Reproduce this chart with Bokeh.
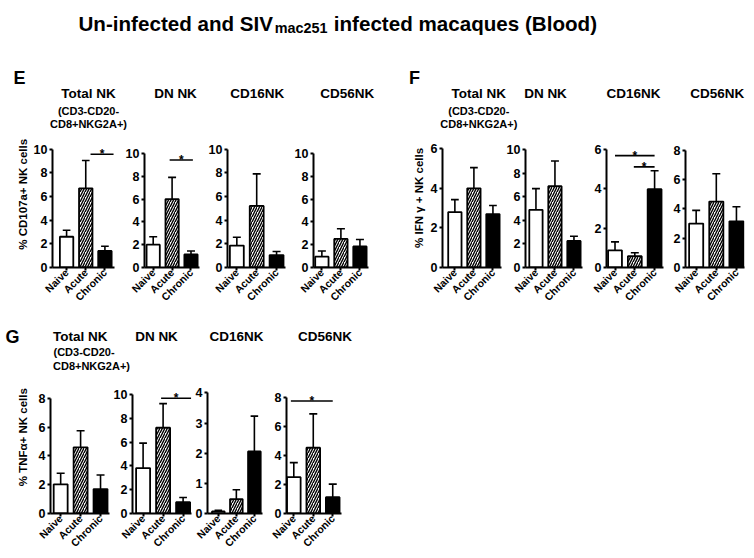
import math
from bokeh.plotting import figure
from bokeh.models import ColumnDataSource, Label, FixedTicker, Range1d
from bokeh.layouts import row, column
from bokeh.embed import file_html
from bokeh.resources import INLINE
from bokeh.core.properties import value, field

FONT = "Liberation Sans"

# ---------------- data ----------------
groups = ["Naive", "Acute", "Chronic"]
panel_names = ["Total NK", "DN NK", "CD16NK", "CD56NK"]
total_sub = ["(CD3-CD20-", "CD8+NKG2A+)"]
title_main = "Un-infected and SIV"
title_sub = "mac251"
title_tail = "infected macaques (Blood)"
section_letters = ["E", "F", "G"]

e_label = "% CD107a+ NK cells"
e_mean = [[2.6, 6.7, 1.4], [2.0, 6.0, 1.15], [1.85, 5.2, 1.05], [0.95, 2.5, 1.85]]
e_upper = [[3.15, 9.05, 1.8], [2.7, 7.9, 1.45], [2.55, 7.9, 1.35], [1.45, 3.4, 2.45]]
e_ymax = [10, 10, 10, 10]
e_ystep = [2, 2, 2, 2]
e_sig = [[(1.25, 2.45, 9.58)], [(0.87, 2.1, 9.42)], [], []]

f_label = "% IFN γ + NK cells"
f_mean = [[2.8, 4.0, 2.7], [4.9, 6.9, 2.25], [0.87, 0.57, 3.97], [3.0, 4.5, 3.15]]
f_upper = [[3.43, 5.05, 3.13], [6.7, 9.05, 2.65], [1.3, 0.75, 4.9], [3.9, 6.4, 4.15]]
f_ymax = [6, 10, 6, 8]
f_ystep = [2, 2, 2, 2]
f_sig = [[], [], [(0.0, 2.0, 5.67), (0.95, 2.0, 5.1)], []]

g_label = "% TNFα+ NK cells"
g_mean = [[2.03, 4.6, 1.7], [3.82, 7.22, 0.95], [0.07, 0.48, 2.06], [2.5, 4.52, 1.12]]
g_upper = [[2.8, 5.75, 2.68], [5.92, 9.25, 1.35], [0.11, 0.79, 3.23], [3.5, 6.85, 2.02]]
g_ymax = [8, 10, 4, 8]
g_ystep = [2, 2, 1, 2]
g_sig = [[], [(0.9, 2.4, 9.7)], [], [(-0.15, 2.0, 7.73)]]

# ---------------- layout (page pixels) ----------------
PAGE_W = 754
# (left edge, axis x, px per group, x start, x end, zero px, top-tick px)
geo_row1 = [
    (30, 49, 20.0, -0.735, 2.5, 267.5, 149.3),
    (120, 144, 19.0, -0.46, 2.45, 267.7, 152.7),
    (202, 226.7, 19.9, -0.47, 2.45, 267.7, 148.3),
    (289, 313.3, 19.0, -0.44, 2.45, 267.7, 152.7),
    (427, 440, 19.7, -0.65, 2.45, 270.7, 148.3),
    (502, 525, 19.15, -0.55, 2.45, 272.3, 150.0),
    (583, 606, 19.85, -0.43, 2.45, 272.3, 149.3),
    (664, 685, 20.2, -0.53, 2.4, 272.7, 150.0),
]
rights_row1 = [120, 202, 289, 380, 502, 583, 664, PAGE_W]
geo_row2 = [
    (29, 50, 20.0, -0.51, 2.45, 513.7, 397.8),
    (110, 130.5, 20.75, -0.53, 2.42, 516.0, 394.5),
    (192, 204, 19.15, -0.6, 2.45, 513.3, 392.7),
    (263, 286, 19.45, -0.375, 2.45, 515.7, 396.7),
]
rights_row2 = [110, 192, 263, 360]
ROW1 = (132, 313, 138)   # row top, row bottom, frame top
ROW2 = (378, 557, 381)
YLAB_STRIPS_ROW1 = [(0, 30, 22, 210.3), (380, 427, 418.3, 215.3)]  # x0, x1, cx, cy
YLAB_STRIP_ROW2 = (0, 29, 22, 453.5)


def style_axes(p, ymax, step):
    for ax in (p.xaxis[0], p.yaxis[0]):
        ax.axis_line_width = 2
        ax.major_tick_line_width = 2
        ax.major_tick_out = 3
        ax.major_tick_in = 0
        ax.minor_tick_line_color = None
        ax.major_label_text_font = FONT
        ax.major_label_text_font_style = "bold"
        ax.major_label_text_color = "black"
        ax.axis_line_color = "black"
        ax.major_tick_line_color = "black"
    p.xaxis.ticker = FixedTicker(ticks=list(range(len(groups))))
    p.xaxis.major_label_overrides = {i: g for i, g in enumerate(groups)}
    p.xaxis.major_label_orientation = math.pi / 4
    p.xaxis.major_label_text_font_size = "10.5px"
    p.xaxis.major_label_standoff = 0
    p.yaxis.ticker = FixedTicker(ticks=list(range(0, ymax + 1, step)))
    p.yaxis.bounds = (0, ymax)
    p.yaxis.major_label_text_font_size = "12.5px"
    p.yaxis.major_label_standoff = 2


def make_panel(mean, upper, ymax, step, sig, geo, right_edge, rowgeo):
    L, A, ppu, xs, xe, b, t = geo
    rtop, rbot, ftop = rowgeo
    W = int(round(right_edge - L))
    mbl = int(round(A - L))
    fw = int(round((xe - xs) * ppu))
    mbr = W - mbl - fw
    H = rbot - rtop
    mbt = ftop - rtop
    mbb = int(round(rbot - b))
    fh = H - mbt - mbb
    k = (b - t) / ymax
    yend = fh / k
    p = figure(width=W, height=H, x_range=Range1d(xs, xe), y_range=Range1d(0, yend),
               min_border_left=mbl, min_border_right=mbr, min_border_top=mbt,
               min_border_bottom=mbb, title=None, toolbar_location=None,
               output_backend="svg")
    p.outline_line_color = None
    p.grid.visible = False
    p.background_fill_color = "white"
    p.border_fill_color = "white"

    xs_idx = list(range(len(groups)))
    cap = 4.0 / ppu
    src = ColumnDataSource(dict(
        x=xs_idx, top=mean, up=upper,
        fill=["white", "white", "black"],
        hatch=[" ", "/", " "],
        c0=[i - cap for i in xs_idx], c1=[i + cap for i in xs_idx]))
    p.segment(x0="x", y0="top", x1="x", y1="up", source=src, line_color="black", line_width=1.6)
    p.segment(x0="c0", y0="up", x1="c1", y1="up", source=src, line_color="black", line_width=1.6)
    p.vbar(x="x", top="top", width=0.7, source=src, fill_color=field("fill"),
           line_color="black", line_width=1.8, hatch_pattern=field("hatch"),
           hatch_color="black", hatch_scale=5, hatch_weight=1.4)
    for (x0, x1, lvl) in sig:
        p.segment(x0=[x0], y0=[lvl], x1=[x1], y1=[lvl], line_color="black", line_width=1.6)
        p.text(x=[(x0 + x1) / 2], y=[lvl], text=["*"], text_align="center",
               text_baseline="alphabetic", text_font=value(FONT), text_font_size="12px",
               text_font_style="bold", text_color="black")
    style_axes(p, ymax, step)
    return p


def strip(width, height):
    s = figure(width=int(width), height=int(height), x_range=Range1d(0, width),
               y_range=Range1d(height, 0), min_border=0, title=None,
               toolbar_location=None, output_backend="svg",
               x_axis_type=None, y_axis_type=None)
    s.outline_line_color = None
    s.background_fill_color = "white"
    s.border_fill_color = "white"
    return s


def lab(s, x, y, text, size, align="center", baseline="middle", angle=0.0):
    s.add_layout(Label(x=x, y=y, text=text, text_align=align, text_baseline=baseline,
                       text_font=FONT, text_font_size=size, text_font_style="bold",
                       text_color="black", angle=angle))


def ylabel_strip(spec, rowgeo, text):
    x0, x1, cx, cy = spec
    rtop, rbot, _ = rowgeo
    s = strip(x1 - x0, rbot - rtop)
    lab(s, cx - x0, cy - rtop, text, "11.5px", angle=math.pi / 2)
    return s


# header strip (page y 0..132)
head = strip(PAGE_W, ROW1[0])
lab(head, 78, 23, title_main, "20.6px", align="left", baseline="alphabetic")
lab(head, 274.3, 27.3, title_sub, "14.4px", align="left", baseline="alphabetic")
lab(head, 333.3, 23, title_tail, "20.6px", align="left", baseline="alphabetic")
lab(head, 19, 77, section_letters[0], "18px")
lab(head, 414, 77, section_letters[1], "18px")
for cx, name in zip([88, 175, 256.7, 346.7, 478.3, 545, 633, 716.7], panel_names * 2):
    lab(head, cx, 93, name, "13.5px")
for cx in [88, 478.3]:
    lab(head, cx, 110, total_sub[0], "11px")
    lab(head, cx, 123, total_sub[1], "11px")

# row 1
row1 = []
row1_sets = [(e_mean, e_upper, e_ymax, e_ystep, e_sig, e_label),
             (f_mean, f_upper, f_ymax, f_ystep, f_sig, f_label)]
for si, (mn, up, ym, st, sg, yl) in enumerate(row1_sets):
    row1.append(ylabel_strip(YLAB_STRIPS_ROW1[si], ROW1, yl))
    for j in range(4):
        idx = si * 4 + j
        row1.append(make_panel(mn[j], up[j], ym[j], st[j], sg[j], geo_row1[idx],
                               rights_row1[idx], ROW1))

# strip 2 (page y 313..378)
s2 = strip(PAGE_W, ROW2[0] - ROW1[1])
oy2 = ROW1[1]
lab(s2, 12, 336 - oy2, section_letters[2], "18px")
lab(s2, 52.5, 336 - oy2, panel_names[0], "13.5px", align="left")
lab(s2, 53, 351.7 - oy2, total_sub[0], "11px", align="left")
lab(s2, 52.5, 365.3 - oy2, total_sub[1], "11px", align="left")
for cx, name in zip([156, 236, 324.6], panel_names[1:]):
    lab(s2, cx, 336 - oy2, name, "13.5px")

# row 2
row2 = [ylabel_strip(YLAB_STRIP_ROW2, ROW2, g_label)]
for j in range(4):
    row2.append(make_panel(g_mean[j], g_upper[j], g_ymax[j], g_ystep[j], g_sig[j],
                           geo_row2[j], rights_row2[j], ROW2))

layout = column(head, row(*row1), s2, row(*row2))
open("out.html", "w").write(file_html(layout, INLINE))
